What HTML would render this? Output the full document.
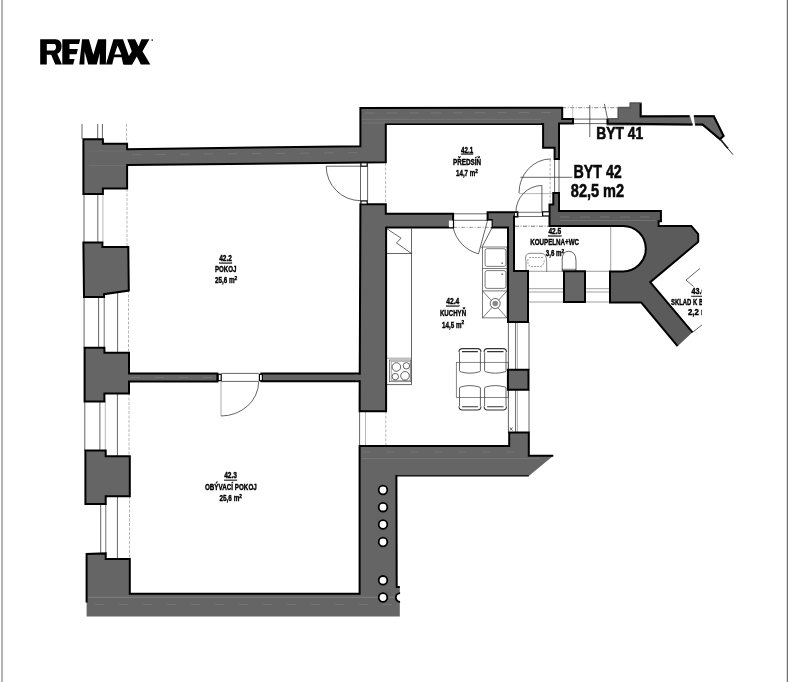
<!DOCTYPE html>
<html><head><meta charset="utf-8">
<style>
html,body{margin:0;padding:0;background:#fff;width:788px;height:682px;overflow:hidden}
svg{position:absolute;left:0;top:0;display:block;will-change:transform}
text{font-family:"Liberation Sans",sans-serif}
</style></head>
<body>
<svg width="788" height="682" viewBox="0 0 788 682">
<defs><clipPath id="clipR"><rect x="0" y="0" width="702" height="682"/></clipPath></defs>
<rect x="0" y="0" width="788" height="682" fill="#fff"/>
<!-- borders -->
<rect x="1" y="0" width="2" height="682" fill="#b4b4b4"/>
<rect x="786" y="0" width="1" height="682" fill="#dcdcdc"/><rect x="787" y="0" width="1" height="682" fill="#727272"/>

<!-- logo -->
<g id="logo" fill="#000">
<path fill-rule="evenodd" d="M40.2,39.2 H55.5 C59.8,39.2 61.6,42.2 61.6,46.5 C61.6,50 60,52.6 57.2,53.8 L62,64.5 H55.3 L51.2,54.8 H46.8 V64.5 H40.2 Z M46.8,43.9 H54.2 C55.6,43.9 56,45.5 56,47.1 C56,48.8 55.3,50.4 54,50.4 H46.8 Z"/>
<path d="M62.3,39.2 H80.2 L79,43.9 H69.5 V48.9 H77.8 L76.6,54.2 H69.5 V59.1 H74.6 L73.2,64.5 H62.3 Z"/>
<path d="M79.3,64.5 L82.1,39.2 H88.9 L93.3,54.8 L98,39.2 H106.2 L105.9,64.5 H99.6 L99.8,53 L96.8,64.5 H88.2 L84.6,51.5 L84.4,64.5 Z"/>
<path fill-rule="evenodd" d="M105.9,64.5 L113.5,39.2 H123 L131.9,64.5 H123.2 L121.6,57.3 H114 L112.2,64.5 Z M117.6,45.5 L121.4,54.4 H114.5 Z"/>
<path d="M127.2,39.2 H135.1 L138.6,46.5 L141.4,39.2 H149.4 L142.5,51.2 L150.3,64.5 H140.8 L136.8,56.5 L132.2,64.5 H124 L131.8,51.2 Z"/>
<circle cx="152.2" cy="40.1" r="0.8"/>
</g>

<!-- thin details -->
<g fill="none" stroke="#222" stroke-width="0.7">
<!-- left windows -->
<path d="M82,124 V139 M97.7,124 V139 M102.4,124 V139"/>
<path d="M84,194 V243 M97.8,194 V243 M84.1,297 V348 M98.6,297 V348 M84.8,401 V451 M99.9,401 V451 M100.7,504 V554"/>
<path d="M117.6,292 V353 M117.4,393 V456 M117.4,496 V559" />
<path stroke="#999" d="M102.9,194 V243 M105.3,401 V451"/><path stroke="#333" d="M104.2,294 V350 M105.8,503 V556"/>
<path stroke="#999" stroke-dasharray="3,1.5" d="M126.5,124 V144 M127,189 V247 M128.5,290 V353 M129,393 V456 M129.5,496 V559"/>
<!-- door pokoj/corridor -->
<path d="M326.2,166.2 H360.7 M360.5,166.2 V200.7 M367.6,166.2 V200.7"/>
<path d="M326.2,166.2 A34.5,34.5 0 0 0 360.7,200.7"/>
<path stroke="#999" stroke-dasharray="3,1.5" d="M385.6,163 V204"/>
<!-- door pokoj/obyvaci -->
<path d="M221.4,373.4 H258.7 M221.4,381.4 H258.7"/>
<path stroke="#888" d="M221,382 V416"/>
<path d="M221,416 A37.7,34.5 0 0 0 258.7,381.9"/>
<!-- below column -->
<path d="M359.6,411.3 V446"/><path stroke="#999" d="M365.5,411.3 V446"/>
<path stroke="#999" stroke-dasharray="3,1.5" d="M385.8,411.3 V446"/>
<!-- kitchen counter left -->
<path d="M411.5,228.5 V384.6 M387,253.5 H411.5 M387,228.8 L401.1,238.2 L396.4,242.9 L411.5,253.5 M387,384.6 H411.5"/>
<path stroke="#777" d="M387,358.2 H411.5"/>
<rect x="389.4" y="360" width="21.4" height="21.7" stroke="#555"/>
<rect x="391.2" y="361.2" width="19" height="19.3" stroke="#888"/>
<circle cx="396.4" cy="367" r="4.3"/><circle cx="406.4" cy="365.8" r="3.2"/><circle cx="395.3" cy="376.6" r="3.2"/><circle cx="405" cy="375.8" r="4.3"/>
<!-- kitchen door -->
<path d="M453.1,213.8 H487.6 M453.1,220.3 H487.6"/>
<path d="M487.6,220.3 L478.5,253.8 M491.7,228.5 L481.6,247.8"/>
<path stroke="#555" stroke-width="0.6" stroke-dasharray="4,1.5,1,1.5" d="M453.1,227.3 H491.7"/>
<path d="M453.1,227.4 A35,35 0 0 0 478.5,253.8"/>
<!-- sink unit -->
<rect x="482.6" y="247" width="24.4" height="70.9" stroke="#444"/>
<rect x="485.1" y="248.7" width="20.8" height="17.7" rx="2" stroke="#444"/>
<rect x="485.1" y="270.6" width="20.8" height="17.8" rx="2" stroke="#444"/>
<path stroke="#444" d="M482.6,268.5 H507 M482.6,290.9 H507 M482.6,290.9 L507,317.9 M507,290.9 L482.6,317.9"/>
<circle cx="495.2" cy="303.5" r="5" fill="#fff"/>
<circle cx="495.2" cy="303.5" r="2.8" fill="#888" stroke="none"/>
<circle cx="502.2" cy="263.2" r="0.9" fill="#777" stroke="none"/>
<circle cx="502.2" cy="274.2" r="0.9" fill="#777" stroke="none"/>
<!-- table & chairs -->
<rect x="456.3" y="362.3" width="51.9" height="35.3" stroke="#555"/>
<g stroke="#333" stroke-width="0.75">
<path d="M459.5,352.2 V370.8 Q459.8,372 461.5,372 C467,373.6 472.9,373.6 478.4,372 Q480.09999999999997,372 480.4,370.8 V352.2"/>
<path stroke-width="1.1" d="M459,352 Q459,348.6 462.5,348.6 H477.4 Q480.9,348.6 480.9,352 M462,351.6 H477.9"/>
<path d="M459.5,406.2 V388 Q459.8,386.8 461.5,386.8 C467,385.2 472.9,385.2 478.4,386.8 Q480.09999999999997,386.8 480.4,388 V406.2"/>
<path stroke-width="1.1" d="M459,406.5 Q459,410 462.5,410 H477.4 Q480.9,410 480.9,406.5 M462,406.8 H477.9"/>
<path d="M484.6,352.2 V370.8 Q484.90000000000003,372 486.6,372 C492.1,373.6 498.5,373.6 504.0,372 Q505.7,372 506.0,370.8 V352.2"/>
<path stroke-width="1.1" d="M484.1,352 Q484.1,348.6 487.6,348.6 H503.0 Q506.5,348.6 506.5,352 M487.1,351.6 H503.5"/>
<path d="M484.6,406.2 V388 Q484.90000000000003,386.8 486.6,386.8 C492.1,385.2 498.5,385.2 504.0,386.8 Q505.7,386.8 506.0,388 V406.2"/>
<path stroke-width="1.1" d="M484.1,406.5 Q484.1,410 487.6,410 H503.0 Q506.5,410 506.5,406.5 M487.1,406.8 H503.5"/>
</g>
<!-- kitchen window -->
<path d="M508.4,322 V370 M515.6,322 V370 M529,322 V370 M508.4,390 V433 M515.6,390 V433 M529,390 V433"/>
<path stroke="#999" d="M517.5,322 V370 M517.5,390 V433"/>
<path d="M510,427.5 L512.5,430.5 M512.5,427.5 L510,430.5"/>
<!-- entrance doors -->
<path d="M554.6,159 V193.1 M559,159 V193.1"/>
<path stroke="#999" stroke-dasharray="3,1.5" d="M550.1,159 V204.6"/>
<path d="M520.3,177.3 H572.3"/>
<path d="M550.8,158.9 A32,34 0 0 0 519,193"/>
<path stroke="#999" d="M519,193.6 H553.3"/>
<path d="M541.9,185.5 V212.2"/>
<path d="M541.9,185.5 A26,26.7 0 0 0 515.9,212.2"/>
<path stroke="#333" d="M517,212.3 H542.5 M517,216.5 H542.5"/>
<path stroke="#333" stroke-dasharray="4,1.5,1,1.5" d="M515,226.2 H549.5"/>
<!-- byt41 windows -->
<path stroke="#555" stroke-dasharray="4,1.5,1,1.5" d="M562.2,107.7 H618.4"/>
<path d="M573,119.1 H607.6 M573,123.6 H607.6 M589.8,105 V137 M604.4,103.9 L607.6,119"/>
<path stroke="#aaa" d="M572.7,105 V123"/>
<path d="M719.9,139.1 L733.1,154.8" stroke-width="0.9"/><path d="M720.5,139.5 L728,148.5" stroke-width="1.8"/>
<!-- bathroom -->
<path stroke="#777" d="M528.7,271.3 H564 M584.7,271.3 H610 M528.7,288.7 H564 M584.7,288.7 H610 M528.7,292 H564 M584.7,292 H610 M528.7,302 H564 M584.7,302 H610 M610.7,226 V271.3"/>
<path stroke="#555" d="M526,272 V262 Q524,253.3 530,253.3 H541 Q546.7,253.3 546.7,262 V272"/>
<path stroke="#777" d="M528,259 Q527,266 531,266.5 H540 Q544,266 544.5,259 M529,257.5 H543" stroke-dasharray="2,1"/>
<path stroke="#222" d="M562.2,271.3 V260 Q562,251.3 568.6,251.3 Q576,251.3 576,261 V271.3"/>
<rect x="562.5" y="269.2" width="13" height="2.1" stroke="#444"/>
<!-- sklad -->
<g clip-path="url(#clipR)">
<path d="M686,280.1 L700,268.4 M686,280.1 L693.6,286.5 M692.5,332.3 L702,324.9"/>
</g>
</g>

<!-- walls -->
<g fill="#656565" stroke="#000" stroke-width="2" stroke-linejoin="miter">
<!-- pier1 + top walls -->
<path d="M83.4,139.2 L102.9,139.2 L102.9,143.7 L127.1,143.7 L127.1,149.2 L360.4,146.3 L360.4,108 L562.2,107.7 L562.2,119.1 L573,119.1 L573,123.6 L559,123.6 L559,159.1 L554.6,159.1 L554.6,147.7 L543.1,147.7 L543.1,124 L385.8,124 L385.8,162.3 L127.1,165 L127.1,188.5 L102.9,188.5 L102.9,194 L83.4,194 Z"/>
<!-- pier2 -->
<path d="M83.4,242.6 L102.4,242.6 L102.4,247 L128.3,247 L128.8,290.6 L104,294.2 L104,297 L84,297 Z"/>
<!-- pier3 + wall -->
<path d="M84.6,347.7 L104.4,347.7 L104.4,352.8 L129,352.8 L129,373.6 L217.4,373.6 L217.4,381.4 L129,381.4 L129,393.4 L104.4,393.4 L104.4,401.5 L84.6,401.5 Z"/>
<path d="M261.4,373.6 L359.6,373.6 L359.6,381.2 L261.4,381.2 Z"/>
<!-- pier4 -->
<path d="M85.4,450.6 L105.7,450.6 L105.7,456.2 L129.8,456.2 L129.8,496.3 L105.7,496.3 L105.7,503.9 L85.4,503.9 Z"/>
<!-- pier5 + bottom wall + L wall -->
<path stroke="none" d="M86.6,554 L105.7,553.4 L105.7,559 L129.8,559 L129.8,593.7 L359.6,593.7 L359.6,446 L509.2,446 L509.2,432.6 L528.8,432.6 L528.8,455.8 L553.3,455.8 L528.8,475.9 L396.4,475.9 L396.7,586.9 L399.8,586.9 L399.8,616.6 L86.6,616.6 Z"/>
<path fill="none" d="M86.6,602.5 L86.6,554 L105.7,553.4 L105.7,559 L129.8,559 L129.8,593.7 L359.6,593.7 L359.6,446 L509.2,446 L509.2,432.6 L528.8,432.6 L528.8,455.8 L553.3,455.8"/>
<path fill="none" stroke-width="1.1" d="M528.8,475.9 L396.4,475.9"/>
<path fill="none" d="M396.4,475 L396.7,586.9 L399.8,586.9"/>
<!-- column pokoj/kitchen -->
<path d="M360.4,204.2 L385.8,204.2 L385.8,213.8 L453.1,213.8 L453.1,227.4 L386.1,227.4 L386.1,411.3 L359.6,411.3 Z"/>
<!-- kitchen right top -->
<path d="M487.6,212.2 L517.4,212.2 L517.4,216.6 L514,216.6 L514,271 L528,271 L528,322 L508,322 L508,227.4 L491.7,227.4 L491.7,220 L487.6,220 Z"/>
<!-- kitchen window pier -->
<path d="M507.9,369.8 L528.5,369.8 L528.5,389.7 L507.9,389.7 Z"/>
<!-- bathroom middle pier -->
<path d="M564,271.2 L585,271.2 L585,302 L564,302 Z"/>
<!-- big right structure -->
<path fill="#5b5b5b" stroke="none" d="M553.3,193.1 L559,193.1 L559,211 L660.9,211 L660.9,221.3 L658.6,221.3 L658.6,225.9 L691.3,225.9 L698.2,234.2 L698.2,241.9 L650.2,282.2 L692.5,332.3 L677.6,346.2 L641.3,302.5 L610,302.5 L610,271.5 L623,271.5 A22.8,22.8 0 0 0 623,225.9 L549.5,225.9 L549.5,204.6 L553.3,204.6 Z"/>
<path fill="none" d="M692.5,332.3 L650.2,282.2 L698.2,241.9 L698.2,234.2 L691.3,225.9 L658.6,225.9 L658.6,221.3 L660.9,221.3 L660.9,211 L559,211 L559,193.1 L553.3,193.1 L553.3,204.6 L549.5,204.6 L549.5,225.9 L623,225.9 A22.8,22.8 0 0 1 623,271.5 L610,271.5 L610,302.5 L641.3,302.5 L677.6,346.2"/>
<!-- BYT41 walls -->
<path stroke="none" d="M606.6,124.6 L606.6,118.1 L617.4,118.1 L617.4,106.7 L629.4,106.7 L629.4,102.2 L641.6,102.2 L641.6,115.2 L689.8,115.2 L693,125.4 L606.6,125.4 Z"/>
<path fill="none" d="M689.4,116.2 L640.6,116.4 L640.6,103.2 M607.6,119.1 L607.6,123.6 L692.5,124.4"/>
<path fill="none" stroke="#444" stroke-width="0.6" d="M640.6,103.2 L630.4,103.2 L630.4,107.7 L618.4,107.7 L618.4,119.1 L607.6,119.1"/>
<path stroke="none" d="M693.6,115.2 L714.4,115.2 L724.8,136 L719.9,140.3 L702.2,125.4 L695,125.4 Z"/>
<path fill="none" d="M694,116.2 L713.8,116.2 L723.5,136 L719.9,139.1 L702.6,124.4 L695.2,124.4"/>
</g>

<rect x="355" y="374.7" width="6.6" height="5.5" fill="#656565"/>
<!-- hatch -->
<g fill="none" stroke="#7d7d7d" stroke-width="0.7">
<path stroke-dasharray="9,15" d="M132,154.8 L360,152.6"/>
<path stroke-dasharray="10,12" d="M365,113 L560,112.5"/>
<path stroke="#7c7c7c" d="M362,119.3 L541,119.3 M362,123 L541,123"/>
<path stroke="#7a7a7a" stroke-width="1.2" d="M88,597.3 H398"/>
<path stroke-dasharray="9,15" d="M95,604.5 H398"/>
<path stroke-dasharray="9,15" d="M362,452 H526"/>
<path stroke="#7c7c7c" d="M362,458.6 H540"/>
<path stroke="#747474" d="M89,165.5 H126 M89,151 H126"/>
<path stroke-dasharray="9,15" d="M131,377.5 H217"/>
<path stroke-dasharray="10,10" d="M560,217 H658"/>
<path stroke="#7a7a7a" d="M560,220.5 H656"/>
</g>
<!-- jambs & holes -->
<g fill="#fff" stroke="#000" stroke-width="1.2">
<rect x="360.9" y="162.8" width="6.3" height="3.4"/>
<rect x="360.9" y="200.9" width="6.3" height="3.3"/>
<rect x="218.2" y="374.3" width="3" height="6.4"/>
<rect x="259.4" y="374.3" width="3" height="6.4"/>
<rect x="542.6" y="211.8" width="6.8" height="4.2"/>
<rect x="514.6" y="212.6" width="2.6" height="3.8" stroke-width="0.8"/>
<rect x="448.9" y="220.6" width="4" height="6.6" stroke="none"/>
<rect x="487.8" y="220.6" width="3.8" height="6.6" stroke="none"/>
</g>
<g fill="#fff" stroke="#000" stroke-width="1.8">
<circle cx="383" cy="490" r="4.3"/><circle cx="383" cy="507.2" r="4.3"/><circle cx="383" cy="524.5" r="4.3"/><circle cx="383" cy="542" r="4.3"/><circle cx="383" cy="580.3" r="4.3"/><circle cx="383" cy="597.5" r="4.3"/>
<path d="M400.2,593.1 A4.4,4.4 0 0 0 400.2,601.9"/>
</g>
<rect x="400.5" y="590" width="6" height="15" fill="#fff"/>

<!-- room labels -->
<g font-size="9" font-weight="bold" fill="#000" stroke="#000" stroke-width="0.4">
<text x="219.2" y="260.6" textLength="12.7" lengthAdjust="spacingAndGlyphs">42.2</text>
<text x="215" y="272" textLength="21.5" lengthAdjust="spacingAndGlyphs">POKOJ</text>
<text x="215" y="282.7" textLength="19.5" lengthAdjust="spacingAndGlyphs">25,6 m</text>
<text x="224.2" y="478.4" textLength="12.8" lengthAdjust="spacingAndGlyphs">42.3</text>
<text x="204.9" y="489.5" textLength="51.9" lengthAdjust="spacingAndGlyphs">OBÝVACÍ POKOJ</text>
<text x="219.5" y="501.1" textLength="19.8" lengthAdjust="spacingAndGlyphs">25,6 m</text>
<text x="461" y="152.8" textLength="12.1" lengthAdjust="spacingAndGlyphs">42.1</text>
<text x="453" y="164.6" textLength="28.1" lengthAdjust="spacingAndGlyphs">PŘEDSÍŇ</text>
<text x="456" y="176.4" textLength="19.3" lengthAdjust="spacingAndGlyphs">14,7 m</text>
<text x="446.3" y="304.4" textLength="13.0" lengthAdjust="spacingAndGlyphs">42.4</text>
<text x="439.9" y="315.8" textLength="26.2" lengthAdjust="spacingAndGlyphs">KUCHYŇ</text>
<text x="442.1" y="327.6" textLength="19.3" lengthAdjust="spacingAndGlyphs">14,5 m</text>
<text x="548.4" y="234.4" textLength="12.9" lengthAdjust="spacingAndGlyphs">42.5</text>
<text x="530.2" y="245.1" textLength="48.9" lengthAdjust="spacingAndGlyphs">KOUPELNA+WC</text>
<text x="545.8" y="255.7" textLength="15.8" lengthAdjust="spacingAndGlyphs">3,6 m</text>
<text x="234.5" y="279.5" font-size="5" textLength="2.6" lengthAdjust="spacingAndGlyphs">2</text>
<text x="239.3" y="497.8" font-size="5" textLength="2.6" lengthAdjust="spacingAndGlyphs">2</text>
<text x="475.3" y="173.2" font-size="5" textLength="2.6" lengthAdjust="spacingAndGlyphs">2</text>
<text x="461.4" y="324.4" font-size="5" textLength="2.6" lengthAdjust="spacingAndGlyphs">2</text>
<text x="561.6" y="252.5" font-size="5" textLength="2.6" lengthAdjust="spacingAndGlyphs">2</text>
<rect x="219.5" y="262.8" width="12.4" height="0.7" fill="#444"/>
<rect x="224.2" y="479.9" width="12.8" height="0.7" fill="#444"/>
<rect x="461" y="153.8" width="12.1" height="0.7" fill="#444"/>
<rect x="446.3" y="305.8" width="13.0" height="0.7" fill="#444"/>
<rect x="548.4" y="235.7" width="12.9" height="0.7" fill="#444"/>
<g clip-path="url(#clipR)">
<text x="691.4" y="294" textLength="14" lengthAdjust="spacingAndGlyphs">43.6</text>
<rect x="691.4" y="296" width="14" height="0.7" fill="#444"/>
<text x="671" y="304.6" textLength="44" lengthAdjust="spacingAndGlyphs">SKLAD K BYTU</text>
<text x="688" y="315.3" textLength="20" lengthAdjust="spacingAndGlyphs">2,2 m</text>
</g>
</g>

<!-- BYT labels -->
<g font-weight="bold" fill="#0a0a0a" stroke="#0a0a0a" stroke-width="0.6">
<text x="596.2" y="139.4" font-size="16.3" textLength="46.9" lengthAdjust="spacingAndGlyphs">BYT 41</text>
<text x="573.4" y="177.6" font-size="18.6" textLength="48.4" lengthAdjust="spacingAndGlyphs">BYT 42</text>
<text x="570.8" y="196.7" font-size="18.6" textLength="53.3" lengthAdjust="spacingAndGlyphs">82,5 m2</text>
</g>
</svg>
</body></html>
